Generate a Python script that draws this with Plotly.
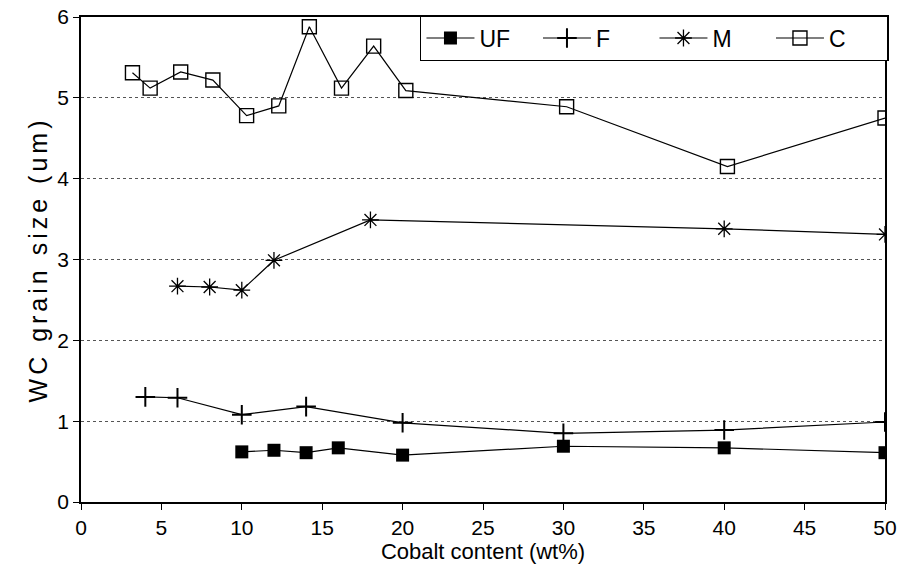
import plotly.graph_objects as go

# Data
uf_x = [10, 12, 14, 16, 20, 30, 40, 50]
uf_y = [0.62, 0.64, 0.61, 0.67, 0.58, 0.69, 0.67, 0.61]

f_x = [4, 6, 10, 14, 20, 30, 40, 50]
f_y = [1.30, 1.29, 1.08, 1.18, 0.98, 0.85, 0.89, 0.99]

m_x = [6, 8, 10, 12, 18, 40, 50]
m_y = [2.67, 2.66, 2.62, 2.99, 3.49, 3.38, 3.31]

c_x = [3.2, 4.3, 6.2, 8.2, 10.3, 12.3, 14.2, 16.2, 18.2, 20.2, 30.2, 40.2, 50]
c_y = [5.31, 5.12, 5.32, 5.22, 4.78, 4.90, 5.88, 5.12, 5.64, 5.09, 4.89, 4.15, 4.75]

x_ticks = [0, 5, 10, 15, 20, 25, 30, 35, 40, 45, 50]
y_ticks = [0, 1, 2, 3, 4, 5, 6]

FONT = "Liberation Sans, Arial, sans-serif"
LINE = dict(color="black", width=1.2)

fig = go.Figure()
fig.add_trace(go.Scatter(x=uf_x, y=uf_y, name="UF", mode="lines+markers",
                         line=LINE,
                         marker=dict(symbol="square", size=13, color="black")))
fig.add_trace(go.Scatter(x=f_x, y=f_y, name="F", mode="lines+markers",
                         line=LINE,
                         marker=dict(symbol="cross-thin-open", size=14,
                                     line=dict(color="black", width=2))))
fig.add_trace(go.Scatter(x=m_x, y=m_y, name="M", mode="lines+markers",
                         line=LINE,
                         marker=dict(symbol="asterisk-open", size=14,
                                     line=dict(color="black", width=1.3))))
fig.add_trace(go.Scatter(x=c_x, y=c_y, name="C", mode="lines+markers",
                         line=LINE,
                         marker=dict(symbol="square-open", size=14,
                                     color="black",
                                     line=dict(color="black", width=1.4))))

fig.update_layout(
    width=898, height=564,
    margin=dict(l=81, r=13, t=17, b=62, autoexpand=False),
    paper_bgcolor="white", plot_bgcolor="white",
    font=dict(family=FONT, size=20, color="black"),
    showlegend=True,
    legend=dict(orientation="h", x=0.4216, y=1.004,
                xanchor="left", yanchor="top",
                bgcolor="white", bordercolor="black", borderwidth=1.5,
                font=dict(size=23, family=FONT),
                itemwidth=48, entrywidth=53.5, tracegroupgap=0),
)
fig.update_xaxes(
    range=[0, 50], tickvals=x_ticks, ticktext=[str(v) for v in x_ticks],
    showline=True, linecolor="black", linewidth=1.5, mirror=True,
    ticks="outside", ticklen=6, tickcolor="black", showgrid=False,
    zeroline=False, tickfont=dict(size=21), ticklabeloverflow="allow",
    title=dict(text="Cobalt content (wt%)", font=dict(size=22), standoff=10),
)
fig.update_yaxes(
    range=[0, 6], tickvals=y_ticks, ticktext=[str(v) for v in y_ticks],
    showline=True, linecolor="black", linewidth=1.5, mirror=True,
    ticks="outside", ticklen=6, tickcolor="black",
    showgrid=True, gridcolor="#555", gridwidth=1, griddash="dot",
    zeroline=False, tickfont=dict(size=21), ticklabeloverflow="allow",
    title=dict(text='<span style="letter-spacing:4px">WC grain size (um)</span>',
               font=dict(size=25), standoff=3),
)

fig.write_html("out.html",
               config={"displayModeBar": False},
               post_script="document.body.style.margin='0px';")
